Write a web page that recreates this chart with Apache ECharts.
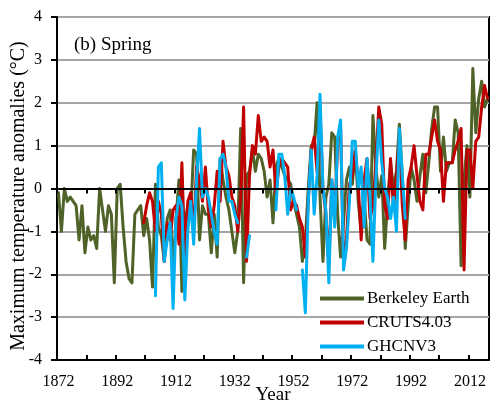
<!DOCTYPE html>
<html>
<head>
<meta charset="utf-8">
<script src="https://cdn.jsdelivr.net/npm/echarts@6/dist/echarts.min.js"></script>
<style>
  html, body { margin: 0; padding: 0; background: #fff; }
  #chart { width: 490px; height: 405px; }
</style>
</head>
<body>
<div id="chart"></div>
<script>
// Spring maximum temperature anomalies (°C), 1872–2018
const firstYear = 1872;
const lastYear = 2018;
const years = [];
for (let y = firstYear; y <= lastYear; y++) years.push(String(y));

const berkeleyEarth = [
  // 1872-1881
  -0.1, -1.0, 0.0, -0.3, -0.2, -0.3, -0.4, -1.2, -0.4, -1.5,
  // 1882-1891
  -0.9, -1.2, -1.1, -1.4, 0.0, -0.5, -1.0, -0.4, -0.6, -2.2,
  // 1892-1901
  0.0, 0.1, -0.9, -1.7, -2.1, -2.2, -0.6, -0.5, -0.4, -1.1,
  // 1902-1911
  -0.7, -1.2, -2.3, 0.1, -0.9, -1.1, -1.7, -0.7, -0.5, -1.9,
  // 1912-1921
  -0.7, 0.2, -2.4, -0.8, -0.4, -0.6, 0.9, 0.8, -1.2, -0.4,
  // 1922-1931
  -0.6, -0.6, -1.5, -0.6, -1.6, 0.7, 0.2, -0.2, -0.5, -1.0,
  // 1932-1941
  -1.5, -1.0, 1.4, -2.2, 0.3, 0.4, 0.9, 0.4, 0.8, 0.7,
  // 1942-1951
  0.4, -0.2, 0.2, -0.8, 0.5, 0.7, 0.5, 0.3, 0.2, 0.1,
  // 1952-1961
  -0.3, -0.6, -0.9, -1.7, -1.2, 0.0, 1.0, 1.0, 2.0, -0.2,
  // 1962-1971
  -1.7, -0.2, 0.1, 1.3, 1.2, -0.6, -1.6, -0.8, 0.2, 0.5,
  // 1972-1981
  0.1, 0.9, -0.3, -1.0, -0.2, -1.2, -1.3, 1.7, 0.5, -0.2,
  // 1982-1991
  0.3, -1.4, -0.3, 0.6, 0.0, 0.4, 1.5, 0.3, -1.4, -0.4,
  // 1992-2001
  0.5, 0.2, -0.3, 0.3, 0.8, -0.1, 0.6, 1.4, 1.9, 1.9,
  // 2002-2011
  0.4, 1.2, 0.4, 0.6, 0.6, 1.6, 1.3, -1.8, 0.2, 1.0,
  // 2012-2018
  -0.2, 2.8, 1.3, 2.1, 2.5, 1.9, 2.1
];

const cruts403 = [
  // 1872-1900: no data
  null, null, null, null, null, null, null, null, null, null,
  null, null, null, null, null, null, null, null, null, null,
  null, null, null, null, null, null, null, null, null,
  // 1901-1910
  -0.8, -0.4, -0.1, -0.3, -1.0, -0.3, -0.6, -1.7, -0.8, -1.2,
  // 1911-1920
  -0.5, -0.4, -1.3, 0.6, -1.6, -0.3, -0.1, -1.0, 0.5, 0.2,
  // 1921-1930
  -0.3, 0.5, -0.5, -0.9, -0.4, 0.4, -0.3, 1.1, 0.5, 0.3,
  // 1931-1940
  -0.2, -0.4, -1.0, -0.2, 1.9, -1.7, 0.3, 1.0, 0.8, 1.7,
  // 1941-1950
  1.1, 1.2, 1.1, 0.5, 0.9, -0.1, 0.5, 0.7, 0.6, 0.5,
  // 1951-1960
  -0.5, -0.3, -0.4, -0.7, -0.9, -1.6, -0.3, 0.9, 1.2, 0.4,
  // 1961-1970
  1.8, 0.0, -0.6, -1.8, 0.2, -0.8, 1.1, 1.4, -1.7, -1.2,
  // 1971-1980
  0.1, 0.3, 0.9, 0.1, -1.2, 0.2, 0.7, -0.7, -0.4, 0.6,
  // 1981-1990
  1.9, 1.5, -0.4, -0.7, 0.7, -0.5, 0.3, 1.2, -0.4, -1.2,
  // 1991-2000
  0.2, 0.5, 1.0, 0.3, -0.3, -0.5, 0.8, 0.8, 1.2, 1.6,
  // 2001-2010
  1.1, 0.9, -0.3, 0.6, 0.6, 0.6, 0.9, 1.1, 1.4, -1.9,
  // 2011-2018
  0.9, 0.9, 0.0, 1.1, 1.2, 1.9, 2.4, 2.1
];

const ghcnv3 = [
  // 1872-1904: no data
  null, null, null, null, null, null, null, null, null, null,
  null, null, null, null, null, null, null, null, null, null,
  null, null, null, null, null, null, null, null, null, null,
  null, null, null,
  // 1905-1914
  -2.5, 0.5, 0.6, -1.7, -1.2, -0.8, -2.8, -0.7, -0.2, -0.4,
  // 1915-1924
  -2.6, -1.0, -0.3, -1.3, 0.2, 1.4, -0.2, 0.0, -0.2, -0.6,
  // 1925-1934
  -1.0, -1.3, 0.7, 0.8, 0.5, -0.3, -0.3, -0.6, -0.8, null,
  // 1935-1944
  null, -1.6, -1.1, null, null, null, null, null, null, null,
  // 1945-1954
  null, -0.5, 0.8, 0.8, 0.3, -0.6, 0.0, -0.2, -0.5, null,
  // 1955-1964
  -1.9, -2.9, -0.3, 0.9, -0.6, 0.3, 2.2, 0.0, -0.5, -2.2,
  // 1965-1974
  0.2, -0.9, 1.2, 1.6, -1.9, -1.4, -0.3, 1.1, 1.1, 0.0,
  // 1975-1984
  0.5, -0.9, 0.7, -0.2, -1.7, 0.2, 1.6, 0.6, 0.0, -0.2,
  // 1985-1990
  -0.7, -0.2, -1.0, 1.4, 0.3, -0.7
];

const yTicks = { min: -4, max: 4, step: 1 };
const serif = '"Liberation Serif", "Times New Roman", serif';

const chart = echarts.init(document.getElementById('chart'), null, { renderer: 'canvas' });

function lineSeries(name, data, color) {
  return {
    name: name,
    type: 'line',
    data: data,
    xAxisIndex: 0,
    yAxisIndex: 0,
    symbol: 'none',
    showSymbol: false,
    connectNulls: false,
    lineStyle: { color: color, width: 3, join: 'round', cap: 'round' },
    itemStyle: { color: color },
    emphasis: { disabled: true },
    animation: false
  };
}

const zeroAxisBase = {
  type: 'category',
  data: years,
  position: 'bottom',
  boundaryGap: true,
  axisLine: { show: true, onZero: true, lineStyle: { color: '#000', width: 2 } },
  axisLabel: { show: false },
  splitLine: { show: false },
  z: 5
};

chart.setOption({
  backgroundColor: '#fff',
  animation: false,
  title: {
    text: '(b) Spring',
    left: 69,
    top: 31,
    textStyle: { fontFamily: serif, fontSize: 19, fontWeight: 'normal', color: '#000' }
  },
  legend: {
    orient: 'vertical',
    left: 315,
    top: 285,
    itemWidth: 44,
    itemHeight: 4,
    itemGap: 7,
    icon: 'rect',
    selectedMode: false,
    textStyle: { fontFamily: serif, fontSize: 17, color: '#000', padding: [0, 0, 0, -2] },
    data: ['Berkeley Earth', 'CRUTS4.03', 'GHCNV3']
  },
  graphic: [
    {
      type: 'text',
      x: 19,
      y: 196,
      rotation: Math.PI / 2,
      style: {
        text: 'Maximum temperature anomalies (°C)',
        fontFamily: serif,
        fontSize: 20,
        fill: '#000',
        align: 'center',
        verticalAlign: 'middle'
      }
    }
  ],
  grid: {
    left: 57,
    right: 1,
    top: 17,
    bottom: 45,
    outerBoundsMode: 'none',
    containLabel: false,
    show: true,
    borderColor: '#000',
    borderWidth: 2,
    backgroundColor: 'transparent'
  },
  xAxis: [
    {
      type: 'category',
      data: years,
      position: 'bottom',
      boundaryGap: true,
      name: 'Year',
      nameLocation: 'middle',
      nameGap: 26,
      nameMoveOverlap: false,
      nameTextStyle: { fontFamily: serif, fontSize: 19, color: '#000' },
      axisLine: { show: false, onZero: false },
      axisTick: { show: false },
      axisLabel: { interval: 19, margin: 14, fontFamily: serif, fontSize: 16, color: '#000' },
      splitLine: { show: false }
    },
    Object.assign({}, zeroAxisBase, {
      axisTick: { show: true, interval: 9, inside: false, length: 5, lineStyle: { color: '#000', width: 2 } }
    }),
    Object.assign({}, zeroAxisBase, {
      axisTick: { show: true, interval: 9, inside: true, length: 5, lineStyle: { color: '#000', width: 2 } }
    })
  ],
  yAxis: {
    type: 'value',
    min: yTicks.min,
    max: yTicks.max,
    interval: yTicks.step,
    axisLine: { show: true, lineStyle: { color: '#000', width: 2 } },
    axisTick: { show: true, inside: false, length: 6, lineStyle: { color: '#000', width: 2 } },
    axisLabel: { margin: 15, fontFamily: serif, fontSize: 16, color: '#000' },
    splitLine: { show: true, lineStyle: { color: '#a6a6a6', width: 2 } }
  },
  series: [
    lineSeries('Berkeley Earth', berkeleyEarth, '#4f6228'),
    lineSeries('CRUTS4.03', cruts403, '#c00000'),
    lineSeries('GHCNV3', ghcnv3, '#00b0f0')
  ]
});
</script>
</body>
</html>
